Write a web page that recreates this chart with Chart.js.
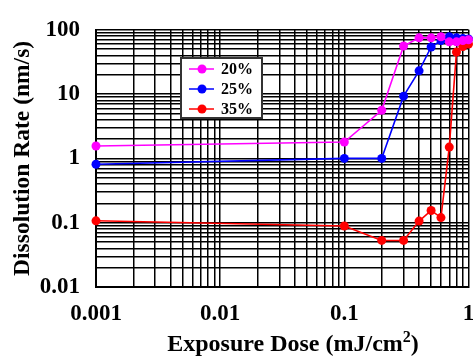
<!DOCTYPE html>
<html>
<head>
<meta charset="utf-8">
<title>Dissolution Rate</title>
<script src="https://cdn.jsdelivr.net/npm/chart.js@4.4.0/dist/chart.umd.min.js"></script>
<style>
  html, body { margin: 0; padding: 0; background: #fff; }
  #wrap { width: 473px; height: 356px; }
</style>
</head>
<body>
<div id="wrap"><canvas id="canvas" width="473" height="356"></canvas></div>
<script>
// exposure dose (mJ/cm2) and dissolution rate (nm/s) per developer concentration
var doses  = [0.001, 0.1, 0.2, 0.3, 0.4, 0.5, 0.6, 0.7, 0.8, 0.9, 1.0];
var rate20 = [1.56, 1.8, 5.6, 56, 75, 75, 78, 65, 65, 68, 70];
var rate25 = [0.81, 1.0, 1.0, 9.3, 23, 54, 68, 78, 75, 73, 72];
var rate35 = [0.107, 0.089, 0.053, 0.053, 0.106, 0.155, 0.12, 1.5, 45, 55, 60];

var seriesNames  = ['20%', '25%', '35%'];
var seriesColors = ['#ff00ff', '#0000ff', '#ff0000'];

var xTickLabels = [0.001, 0.01, 0.1, 1];
var yTickLabels = [0.01, 0.1, 1, 10, 100];

var xTitle = ['Exposure Dose (mJ/cm', '2', ')'];

var serif = '"Liberation Serif", "Times New Roman", Times, serif';
Chart.defaults.font.family = serif;
Chart.defaults.color = '#000';

function points(values) {
    return values.map(function(v, i) { return { x: doses[i], y: v }; });
}

// one grid line at 1..9 of every decade
function decadeTicks(scale) {
    var ticks = [];
    var e = Math.floor(Math.log10(scale.min) + 1e-9);
    while (true) {
        for (var m = 1; m <= 9; m++) {
            var v = parseFloat((m * Math.pow(10, e)).toPrecision(6));
            if (v < scale.min * 0.999) continue;
            if (v > scale.max * 1.001) return ticks;
            ticks.push({ value: v });
        }
        e++;
    }
}

function labelFrom(list) {
    return function(value) {
        for (var i = 0; i < list.length; i++) {
            if (Math.abs(value - list[i]) < list[i] * 1e-6) return String(list[i]);
        }
        return '';
    };
}

var boxLegend = {
    id: 'boxLegend',
    afterDatasetsDraw: function(chart) {
        var ctx = chart.ctx;
        ctx.save();
        ctx.fillStyle = '#fff';
        ctx.fillRect(181, 58, 81, 60);
        ctx.strokeStyle = '#333';
        ctx.lineWidth = 2;
        ctx.strokeRect(181, 58, 81, 60);
        chart.data.datasets.forEach(function(ds, i) {
            var y = 69 + i * 20;
            ctx.strokeStyle = ds.borderColor;
            ctx.lineWidth = 1.5;
            ctx.beginPath();
            ctx.moveTo(189, y);
            ctx.lineTo(214, y);
            ctx.stroke();
            ctx.fillStyle = ds.borderColor;
            ctx.beginPath();
            ctx.arc(202, y, 4.5, 0, Math.PI * 2);
            ctx.fill();
            ctx.fillStyle = '#000';
            ctx.font = 'bold 16px ' + serif;
            ctx.textBaseline = 'middle';
            ctx.textAlign = 'left';
            ctx.fillText(ds.label, 221, y + 1);
        });
        ctx.restore();
    }
};

// x title with a real superscript
var doseTitle = {
    id: 'doseTitle',
    afterDraw: function(chart) {
        var ctx = chart.ctx;
        var big = 'bold 24px ' + serif, small = 'bold 16px ' + serif;
        ctx.save();
        ctx.fillStyle = '#000';
        ctx.textBaseline = 'alphabetic';
        ctx.textAlign = 'left';
        ctx.font = big;
        var w0 = ctx.measureText(xTitle[0]).width, w2 = ctx.measureText(xTitle[2]).width;
        ctx.font = small;
        var w1 = ctx.measureText(xTitle[1]).width;
        var x = 293 - (w0 + w1 + w2) / 2, base = 351;
        ctx.font = big;
        ctx.fillText(xTitle[0], x, base);
        ctx.font = small;
        ctx.fillText(xTitle[1], x + w0, base - 9);
        ctx.font = big;
        ctx.fillText(xTitle[2], x + w0 + w1, base);
        ctx.restore();
    }
};

var series = [rate20, rate25, rate35];

window.onload = function() {
    var ctx = document.getElementById('canvas').getContext('2d');
    window.myChart = new Chart(ctx, {
        type: 'line',
        data: {
            datasets: series.map(function(values, i) {
                return {
                    label: seriesNames[i],
                    data: points(values),
                    borderColor: seriesColors[i],
                    backgroundColor: seriesColors[i],
                    pointBackgroundColor: seriesColors[i],
                    pointBorderWidth: 0,
                    pointRadius: 4.5,
                    borderWidth: 1.6,
                    tension: 0,
                    clip: false
                };
            })
        },
        plugins: [boxLegend, doseTitle],
        options: {
            responsive: false,
            animation: false,
            layout: { padding: { top: 21, right: 3, left: 0, bottom: 0 } },
            plugins: {
                legend: { display: false },
                tooltip: { enabled: false }
            },
            scales: {
                x: {
                    type: 'logarithmic',
                    min: 0.001,
                    max: 1,
                    afterBuildTicks: function(scale) { scale.ticks = decadeTicks(scale); },
                    afterFit: function(scale) { scale.height = 69; scale.paddingRight = 0; },
                    grid: { color: '#000', lineWidth: 1.5, drawTicks: false },
                    border: { color: '#000', width: 2 },
                    ticks: {
                        autoSkip: false,
                        maxRotation: 0,
                        padding: 13,
                        color: '#000',
                        font: { size: 23, weight: 'bold' },
                        callback: labelFrom(xTickLabels)
                    }
                },
                y: {
                    type: 'logarithmic',
                    min: 0.01,
                    max: 100,
                    afterBuildTicks: function(scale) { scale.ticks = decadeTicks(scale); },
                    afterFit: function(scale) { scale.width = 96; },
                    grid: { color: '#000', lineWidth: 1.5, drawTicks: false },
                    border: { color: '#000', width: 2 },
                    ticks: {
                        autoSkip: false,
                        padding: 16,
                        color: '#000',
                        font: { size: 23, weight: 'bold' },
                        callback: labelFrom(yTickLabels)
                    },
                    title: {
                        display: true,
                        text: 'Dissolution Rate (nm/s)',
                        color: '#000',
                        font: { size: 23.5, weight: 'bold' },
                        padding: { top: 9, bottom: 0 }
                    }
                }
            }
        }
    });
};
</script>
</body>
</html>
